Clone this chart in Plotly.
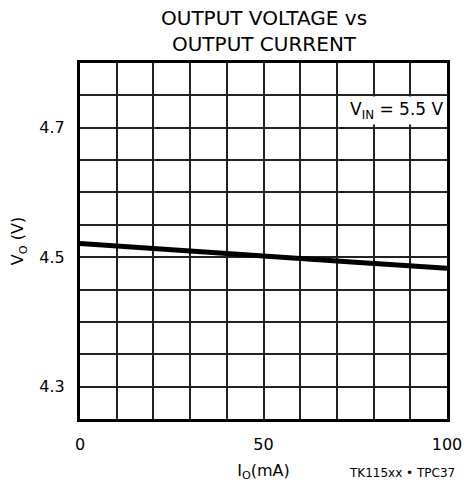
import plotly.graph_objects as go

current_ma = [0, 25, 50, 75, 100]
vout = [4.521, 4.511, 4.502, 4.492, 4.483]
ytick_vals = [4.3, 4.5, 4.7]
ytick_text = ["4.3", "4.5", "4.7"]
xtick_vals = [0, 50, 100]
xtick_text = ["0", "50", "100"]

FONT = "DejaVu Sans, Liberation Sans, Arial, sans-serif"

fig = go.Figure()
fig.add_trace(go.Scatter(x=current_ma, y=vout, mode="lines",
                         line=dict(color="black", width=5), showlegend=False,
                         hoverinfo="skip"))

fig.update_layout(
    width=464, height=482,
    margin=dict(l=80, r=17, t=63, b=63, autoexpand=False),
    paper_bgcolor="white", plot_bgcolor="white",
    font=dict(family=FONT, size=16, color="black"),
    xaxis=dict(range=[0, 100], tickvals=xtick_vals, ticktext=xtick_text,
               showgrid=True, gridcolor="#222", gridwidth=2,
               minor=dict(dtick=10, tick0=0, showgrid=True, gridcolor="#222", gridwidth=2),
               showline=True, linecolor="black", linewidth=3, mirror=True,
               ticks="", ticklabelstandoff=9, zeroline=False,
               title=dict(text="I<sub>O</sub>(mA)", standoff=24, font=dict(size=16))),
    yaxis=dict(range=[4.25, 4.8], tickvals=ytick_vals, ticktext=ytick_text,
               showgrid=True, gridcolor="#222", gridwidth=2,
               minor=dict(dtick=0.05, tick0=4.25, showgrid=True, gridcolor="#222", gridwidth=2),
               showline=True, linecolor="black", linewidth=3, mirror=True,
               ticks="", ticklabelstandoff=9, zeroline=False,
               title=dict(text="V<sub>O</sub> (V)", standoff=12, font=dict(size=16))),
)

fig.add_annotation(x=0.5, y=1.015, xref="paper", yref="paper", xanchor="center", yanchor="bottom",
                   text="OUTPUT VOLTAGE vs<br>OUTPUT CURRENT", showarrow=False,
                   font=dict(family=FONT, size=20, color="black"))
fig.add_annotation(x=1, y=4.726, xref="paper", yref="y", xanchor="right", yanchor="middle",
                   text="V<sub>IN</sub> = 5.5 V", showarrow=False, bgcolor="white",
                   font=dict(family=FONT, size=17, color="black"), borderpad=2)
fig.add_annotation(x=1.027, y=-0.152, xref="paper", yref="paper", xanchor="right", yanchor="middle",
                   text="TK115xx • TPC37", showarrow=False,
                   font=dict(family=FONT, size=12, color="black"))

fig.write_html("out.html", config={"displayModeBar": False},
               post_script="document.body.style.margin='0';")
